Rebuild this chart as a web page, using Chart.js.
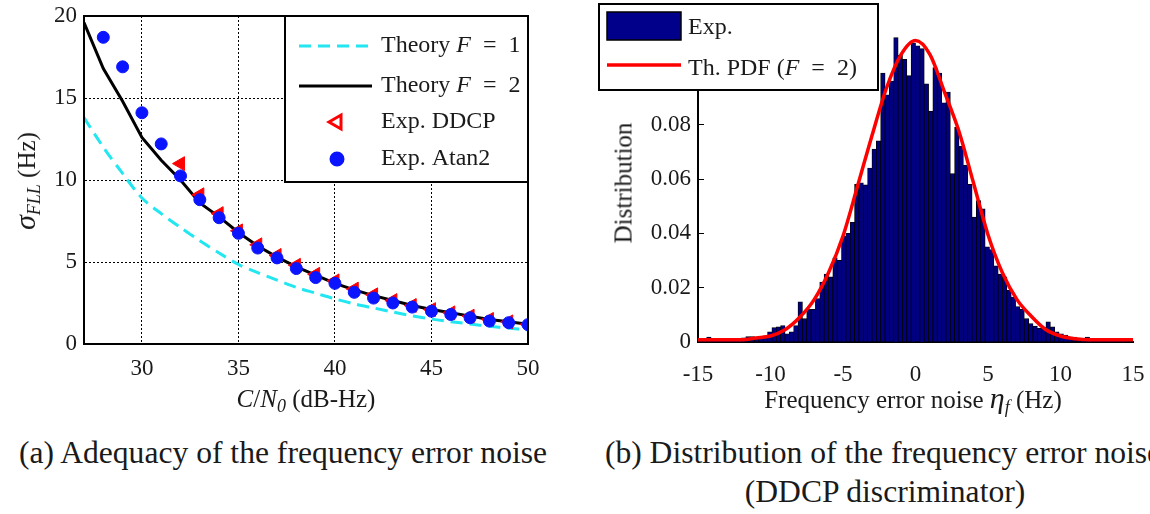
<!DOCTYPE html>
<html>
<head>
<meta charset="utf-8">
<script src="https://cdn.jsdelivr.net/npm/chart.js@4.4.0/dist/chart.umd.min.js"></script>
<style>
  body { margin: 0; width: 1150px; height: 514px; position: relative; overflow: hidden; background: #fff;
         font-family: "Liberation Serif", "Times New Roman", serif; color: #1a1a1a; }
  .panel { position: absolute; top: 0; height: 420px; }
  .txt { position: absolute; white-space: nowrap; line-height: 1; transform: translate(-50%, -50%); }
  .rot { transform: translate(-50%, -50%) rotate(-90deg); }
  sub { font-size: 0.72em; vertical-align: -0.3em; line-height: 0; }
</style>
</head>
<body>
<div class="panel" style="left:0;width:560px"><canvas id="fllChart"></canvas></div>
<div class="panel" style="left:580px;width:570px"><canvas id="histChart"></canvas></div>

<div class="txt rot" style="left:25px;top:181px;font-size:25px"><i style="font-size:30px">σ</i><sub><i>FLL</i></sub> (Hz)</div>
<div class="txt" style="left:306px;top:398px;font-size:25px"><i>C</i>/<i>N</i><sub><i>0</i></sub> (dB-Hz)</div>
<div class="txt rot" style="left:623px;top:183px;font-size:25px">Distribution</div>
<div class="txt" style="left:913px;top:398px;font-size:25px">Frequency error noise <i style="font-size:30px">η</i><sub><i>f</i></sub> (Hz)</div>

<div class="txt" style="left:283px;top:453px;font-size:31.6px">(a) Adequacy of the frequency error noise</div>
<div class="txt" style="left:883px;top:453px;font-size:31.6px">(b) Distribution of the frequency error noise</div>
<div class="txt" style="left:885px;top:492px;font-size:31.6px">(DDCP discriminator)</div>

<script>
// ---- (a) sigma FLL vs C/N0 ----
const cn0 = [27, 28, 29, 30, 31, 32, 33, 34, 35, 36, 37, 38, 39, 40, 41, 42, 43, 44, 45, 46, 47, 48, 49, 50];
const theoryF1 = [13.8, 12.0, 10.4, 8.9, 7.95, 7.1, 6.3, 5.55, 4.85, 4.35, 3.9, 3.45, 3.1, 2.75, 2.45, 2.2, 1.95, 1.72, 1.52, 1.36, 1.22, 1.08, 0.96, 0.86];
const theoryF2 = [19.6, 16.8, 14.8, 12.6, 11.2, 10.0, 8.6, 7.75, 6.8, 5.97, 5.3, 4.7, 4.2, 3.7, 3.3, 2.95, 2.65, 2.35, 2.1, 1.9, 1.7, 1.5, 1.35, 1.2];
const ddcpX = [32, 33, 34, 35, 36, 37, 38, 39, 40, 41, 42, 43, 44, 45, 46, 47, 48, 49, 50];
const ddcpY = [11.0, 9.1, 7.95, 6.9, 6.05, 5.4, 4.8, 4.25, 3.85, 3.35, 3.0, 2.65, 2.35, 2.1, 1.9, 1.7, 1.5, 1.35, 1.2];
const atan2X = [28, 29, 30, 31, 32, 33, 34, 35, 36, 37, 38, 39, 40, 41, 42, 43, 44, 45, 46, 47, 48, 49, 50];
const atan2Y = [18.7, 16.9, 14.1, 12.2, 10.25, 8.8, 7.7, 6.75, 5.85, 5.25, 4.6, 4.05, 3.7, 3.15, 2.8, 2.5, 2.25, 2.0, 1.8, 1.6, 1.4, 1.3, 1.18];
const fllXTicks = [30, 35, 40, 45, 50];
const fllYTicks = [0, 5, 10, 15, 20];

// ---- (b) histogram of frequency error noise ----
const histStart = -15, binWidth = 0.3;
const histValues = [
  0.0005, 0.0005, 0.0018, 0.0012, 0.0005, 0.0003, 0.0003, 0.0005, 0.0005, 0.0008,
  0.0015, 0.002, 0.002, 0.0015, 0.0015, 0.0022, 0.0037, 0.0053, 0.0056, 0.006,
  0.003, 0.0037, 0.006, 0.0148, 0.0086, 0.012, 0.012, 0.016, 0.022, 0.025,
  0.024, 0.031, 0.030, 0.039, 0.040, 0.044, 0.058, 0.0586, 0.0578, 0.064,
  0.071, 0.074, 0.099, 0.091, 0.096, 0.112, 0.1055, 0.104, 0.098, 0.110,
  0.109, 0.108, 0.095, 0.085, 0.101, 0.099, 0.088, 0.092, 0.062, 0.079,
  0.072, 0.065, 0.058, 0.046, 0.052, 0.049, 0.035, 0.034, 0.028, 0.025,
  0.024, 0.019, 0.0165, 0.013, 0.012, 0.0086, 0.0068, 0.0058, 0.005, 0.0055,
  0.0074, 0.0056, 0.0037, 0.003, 0.0025, 0.0018, 0.0018, 0.0012, 0.001, 0.0018,
  0.0005, 0.0003, 0.0003, 0.0003, 0.0002, 0.0002, 0.0002, 0.0002, 0.0002, 0.001
];
const pdfX = [-15, -14, -13, -12, -11, -10, -9, -8, -7, -6, -5, -4, -3, -2, -1, 0, 1, 2, 3, 4, 5, 6, 7, 8, 9, 10, 11, 12, 13, 14, 15];
const pdfY = [0.0008, 0.0008, 0.0008, 0.0008, 0.0015, 0.0022, 0.0045, 0.009, 0.0155, 0.0255, 0.039, 0.0573, 0.076, 0.0935, 0.1058, 0.111,
              0.1058, 0.092, 0.0775, 0.0585, 0.0395, 0.0254, 0.0156, 0.0094, 0.0045, 0.0022, 0.0012, 0.0008, 0.0008, 0.0008, 0.0008];
const histXTicks = [-15, -10, -5, 0, 5, 10, 15];

const SERIF = '"Liberation Serif", "Times New Roman", serif';
Chart.defaults.font.family = SERIF;
Chart.defaults.color = '#1a1a1a';

function toPoints(xs, ys) { return xs.map((x, i) => ({ x: x, y: ys[i] })); }

// keep the plot area exactly where layout.padding puts it
function noLabelPadding(s) { s.paddingLeft = 0; s.paddingRight = 0; s.paddingTop = 0; s.paddingBottom = 0; }

function drawRich(ctx, parts, x, y, size) {
  let cx = x;
  ctx.textBaseline = 'middle';
  ctx.textAlign = 'left';
  ctx.fillStyle = '#1a1a1a';
  for (const [txt, it] of parts) {
    ctx.font = (it ? 'italic ' : '') + size + 'px ' + SERIF;
    ctx.fillText(txt, cx, y);
    cx += ctx.measureText(txt).width;
  }
}

// frame + legend inside panel (a)
const fllDecor = {
  id: 'fllDecor',
  afterDraw(chart) {
    const ctx = chart.ctx, a = chart.chartArea;
    ctx.save();
    ctx.strokeStyle = '#000';
    ctx.lineWidth = 2;
    ctx.setLineDash([]);
    ctx.strokeRect(a.left, a.top, a.right - a.left, a.bottom - a.top);

    const bx = 285, by = 16, bw = a.right - bx, bh = 166;
    ctx.fillStyle = '#fff';
    ctx.fillRect(bx, by, bw, bh);
    ctx.strokeRect(bx, by, bw, bh);

    const x0 = 299, x1 = 372, tx = 381, mx = 337;
    const rows = [46, 86, 122, 159];
    // Theory F = 1
    ctx.strokeStyle = '#22e6f0'; ctx.lineWidth = 3; ctx.setLineDash([12, 7]);
    ctx.beginPath(); ctx.moveTo(x0, rows[0]); ctx.lineTo(x1, rows[0]); ctx.stroke();
    // Theory F = 2
    ctx.strokeStyle = '#000'; ctx.setLineDash([]);
    ctx.beginPath(); ctx.moveTo(x0, rows[1]); ctx.lineTo(x1, rows[1]); ctx.stroke();
    // markers
    ctx.fillStyle = '#fff'; ctx.strokeStyle = '#ff0000';
    Chart.helpers.drawPoint(ctx, { pointStyle: 'triangle', rotation: -90, radius: 8, borderWidth: 3.5 }, mx, rows[2]);
    ctx.fillStyle = '#0a14ff'; ctx.strokeStyle = '#0a14ff';
    Chart.helpers.drawPoint(ctx, { pointStyle: 'circle', rotation: 0, radius: 6, borderWidth: 1 }, mx, rows[3]);

    drawRich(ctx, [['Theory ', false], ['F', true], ['  =  1', false]], tx, rows[0], 24);
    drawRich(ctx, [['Theory ', false], ['F', true], ['  =  2', false]], tx, rows[1], 24);
    drawRich(ctx, [['Exp. DDCP', false]], tx, rows[2], 24);
    drawRich(ctx, [['Exp. Atan2', false]], tx, rows[3], 24);
    ctx.restore();
  }
};

// legend inside panel (b)
const histDecor = {
  id: 'histDecor',
  afterDraw(chart) {
    const ctx = chart.ctx;
    ctx.save();
    const bx = 19, by = 4, bw = 279, bh = 86;
    ctx.fillStyle = '#fff';
    ctx.fillRect(bx, by, bw, bh);
    ctx.strokeStyle = '#000'; ctx.lineWidth = 2;
    ctx.strokeRect(bx, by, bw, bh);
    ctx.fillStyle = '#00008b';
    ctx.fillRect(27, 12, 74, 28);
    ctx.lineWidth = 1.5;
    ctx.strokeRect(27, 12, 74, 28);
    ctx.strokeStyle = '#ff0000'; ctx.lineWidth = 3.5;
    ctx.beginPath(); ctx.moveTo(27, 65); ctx.lineTo(101, 65); ctx.stroke();
    drawRich(ctx, [['Exp.', false]], 108, 28, 24);
    drawRich(ctx, [['Th. PDF (', false], ['F', true], ['  =  2)', false]], 108, 69, 24);
    ctx.restore();
  }
};

new Chart(document.getElementById('fllChart'), {
  type: 'line',
  data: {
    datasets: [
      { label: 'Exp. Atan2', data: toPoints(atan2X, atan2Y), showLine: false, order: 1,
        pointStyle: 'circle', pointRadius: 6, pointBackgroundColor: '#0a14ff', pointBorderColor: '#0a14ff', pointBorderWidth: 1 },
      { label: 'Exp. DDCP', data: toPoints(ddcpX, ddcpY), showLine: false, order: 2,
        pointStyle: 'triangle', pointRotation: -90, pointRadius: 8, pointBackgroundColor: '#ff0000', pointBorderColor: '#ff0000', pointBorderWidth: 1 },
      { label: 'Theory F = 2', data: toPoints(cn0, theoryF2), order: 3, borderColor: '#000', borderWidth: 3,
        pointRadius: 0, tension: 0, fill: false },
      { label: 'Theory F = 1', data: toPoints(cn0, theoryF1), order: 4, borderColor: '#22e6f0', borderWidth: 3,
        borderDash: [12, 7], pointRadius: 0, tension: 0.3, fill: false }
    ]
  },
  options: {
    responsive: true,
    maintainAspectRatio: false,
    animation: false,
    devicePixelRatio: 1,
    layout: { padding: { top: 16, right: 32, left: 0, bottom: 0 } },
    plugins: { legend: { display: false }, tooltip: { enabled: false } },
    scales: {
      x: {
        type: 'linear', min: 27, max: 50,
        afterBuildTicks: s => { s.ticks = fllXTicks.map(v => ({ value: v })); },
        afterFit: s => { s.height = 76; noLabelPadding(s); },
        grid: { color: '#000', lineWidth: 1, drawTicks: false },
        border: { display: true, color: '#000', width: 2, dash: [2, 2] },
        ticks: { padding: 11, font: { size: 23 }, color: '#1a1a1a' }
      },
      y: {
        type: 'linear', min: 0, max: 20,
        afterBuildTicks: s => { s.ticks = fllYTicks.map(v => ({ value: v })); },
        afterFit: s => { s.width = 84; noLabelPadding(s); },
        grid: { color: '#000', lineWidth: 1, drawTicks: false },
        border: { display: true, color: '#000', width: 2, dash: [2, 2] },
        ticks: { padding: 7, font: { size: 23 }, color: '#1a1a1a' }
      }
    }
  },
  plugins: [fllDecor]
});

new Chart(document.getElementById('histChart'), {
  type: 'bar',
  data: {
    datasets: [
      { type: 'line', label: 'Th. PDF (F = 2)', data: toPoints(pdfX, pdfY), order: 0,
        borderColor: '#ff0000', borderWidth: 3.5, pointRadius: 0, cubicInterpolationMode: 'monotone', fill: false },
      { label: 'Exp.', data: histValues.map((v, i) => ({ x: histStart + binWidth * (i + 0.5), y: v })), order: 1,
        backgroundColor: '#000080', borderColor: '#000', borderWidth: 0.8, inflateAmount: 0.4,
        barPercentage: 1, categoryPercentage: 1 }
    ]
  },
  options: {
    responsive: true,
    maintainAspectRatio: false,
    animation: false,
    devicePixelRatio: 1,
    layout: { padding: { top: 16, right: 17, left: 0, bottom: 0 } },
    plugins: { legend: { display: false }, tooltip: { enabled: false } },
    scales: {
      x: {
        type: 'linear', min: -15, max: 15, offset: false,
        afterBuildTicks: s => { s.ticks = histXTicks.map(v => ({ value: v })); },
        afterFit: s => { s.height = 78; noLabelPadding(s); },
        grid: { display: false },
        border: { display: true, color: '#000', width: 2 },
        ticks: { padding: 11, font: { size: 23 }, color: '#1a1a1a' }
      },
      y: {
        type: 'linear', min: 0, max: 0.12,
        ticks: { stepSize: 0.02, padding: 13, font: { size: 23 }, color: '#1a1a1a',
                 callback: v => (v === 0 ? '0' : v.toFixed(2)) },
        afterFit: s => { s.width = 118; noLabelPadding(s); },
        grid: { display: true, drawOnChartArea: false, drawTicks: true, tickLength: -6, color: '#000', lineWidth: 1 },
        border: { display: true, color: '#000', width: 2 }
      }
    }
  },
  plugins: [histDecor]
});
</script>
</body>
</html>
